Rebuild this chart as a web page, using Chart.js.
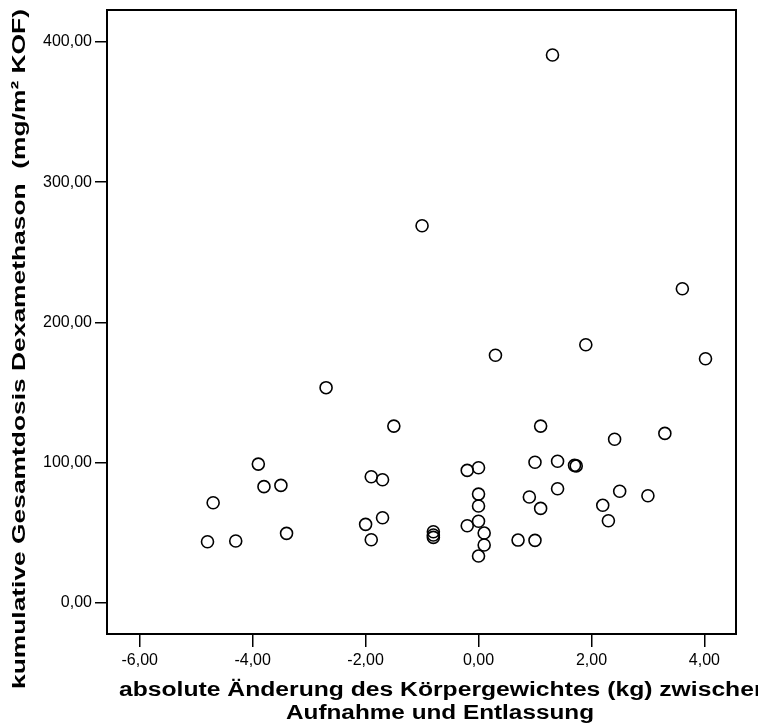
<!DOCTYPE html>
<html>
<head>
<meta charset="utf-8">
<script src="https://cdn.jsdelivr.net/npm/chart.js@4"></script>
<style>
  html, body { margin: 0; padding: 0; background: #fff; }
  canvas { display: block; }
</style>
</head>
<body>
<canvas id="scatter" width="758" height="726"></canvas>
<script>
// Gewichtsänderung (kg) zwischen Aufnahme und Entlassung
const weightChange = [
    -2.70, -1.50, -3.90, -3.80, -3.50, -4.70, -4.80, -4.30, -3.40,
    -1.90, -1.70, -1.70, -2.00, -1.90, -0.80, -0.80, -0.80,
    1.10, 2.41, 3.30, -0.20, 0.00, 1.00, 1.40, 1.70, 1.73,
    0.00, 0.00, 0.00, -0.20, 0.10, 0.10, 0.00, 0.70, 1.00,
    0.90, 1.10, 1.40, 2.20, 2.30, 2.50, 3.00,
    -1.00, 3.61, 1.31, 0.30, 1.90, 4.02
];
// kumulative Dexamethason-Dosis (mg/m² KOF)
const dexaDose = [
    153.4, 126.0, 98.9, 82.8, 83.7, 71.3, 43.5, 44.0, 49.5,
    89.9, 87.7, 60.6, 55.9, 44.9, 50.6, 48.3, 46.6,
    126.0, 116.6, 120.8, 94.4, 96.3, 100.2, 100.9, 98.0, 97.6,
    77.5, 69.0, 58.1, 54.9, 49.7, 41.2, 33.3, 44.7, 44.5,
    75.4, 67.3, 81.3, 69.5, 58.5, 79.5, 76.3,
    268.9, 224.0, 390.7, 176.5, 184.0, 174.0
];

const xTicks = [-6, -4, -2, 0, 2, 4];
const yTicks = [0, 100, 200, 300, 400];
const xTitle = ['absolute Änderung des Körpergewichtes (kg) zwischen', 'Aufnahme und Entlassung'];
const yTitle = 'kumulative Gesamtdosis Dexamethason  (mg/m² KOF)';

const points = weightChange.map((x, i) => ({ x: x, y: dexaDose[i] }));
const FONT = '"Liberation Sans", Arial, sans-serif';
const comma = v => Number(v).toFixed(2).replace('.', ',');

// text drawn a little wider than the font, fitted to a given length
function drawFitted(ctx, text, width) {
    const w = ctx.measureText(text).width;
    ctx.scale(width / w, 1);
    ctx.fillText(text, 0, 0);
}

const frameAndTitles = {
    id: 'frameAndTitles',
    afterDraw(chart) {
        const ctx = chart.ctx;
        const a = chart.chartArea;
        ctx.save();
        ctx.strokeStyle = '#000';
        ctx.lineWidth = 2;
        ctx.strokeRect(a.left, a.top, a.right - a.left, a.bottom - a.top);

        ctx.fillStyle = '#000';
        ctx.textAlign = 'center';
        ctx.textBaseline = 'alphabetic';
        ctx.font = 'bold 20px ' + FONT;

        ctx.save();
        ctx.translate(444, 696);
        drawFitted(ctx, xTitle[0], 650);
        ctx.restore();

        ctx.save();
        ctx.translate(440, 719);
        drawFitted(ctx, xTitle[1], 308);
        ctx.restore();

        ctx.font = 'bold 19px ' + FONT;
        ctx.save();
        ctx.translate(25, 349);
        ctx.rotate(-Math.PI / 2);
        drawFitted(ctx, yTitle, 680);
        ctx.restore();

        ctx.restore();
    }
};

new Chart(document.getElementById('scatter').getContext('2d'), {
    type: 'scatter',
    data: {
        datasets: [{
            data: points,
            pointStyle: 'circle',
            pointRadius: 6,
            pointHoverRadius: 6,
            pointBorderWidth: 1.6,
            pointBorderColor: '#000',
            pointBackgroundColor: 'rgba(0,0,0,0)'
        }]
    },
    options: {
        responsive: false,
        animation: false,
        layout: { padding: { left: 0, top: 10, right: 22, bottom: 0 } },
        plugins: { legend: { display: false }, tooltip: { enabled: false } },
        scales: {
            x: {
                type: 'linear',
                min: -6.58,
                max: 4.56,
                afterBuildTicks: s => { s.ticks = xTicks.map(v => ({ value: v })); },
                afterFit: s => { s.height = 92; s.paddingLeft = 0; s.paddingRight = 0; },
                border: { display: false },
                grid: { drawOnChartArea: false, drawTicks: true, tickLength: 13, color: '#000', lineWidth: 1.5 },
                ticks: {
                    includeBounds: false,
                    autoSkip: false,
                    maxRotation: 0,
                    padding: 4,
                    color: '#000',
                    font: { family: FONT, size: 16 },
                    callback: comma
                }
            },
            y: {
                type: 'linear',
                min: -22.3,
                max: 422.8,
                afterBuildTicks: s => { s.ticks = yTicks.map(v => ({ value: v })); },
                afterFit: s => { s.width = 107; s.paddingTop = 0; s.paddingBottom = 0; },
                border: { display: false },
                grid: { drawOnChartArea: false, drawTicks: true, tickLength: 12, color: '#000', lineWidth: 1.5 },
                ticks: {
                    includeBounds: false,
                    autoSkip: false,
                    padding: 3,
                    color: '#000',
                    font: { family: FONT, size: 16 },
                    callback: comma
                }
            }
        }
    },
    plugins: [frameAndTitles]
});
</script>
</body>
</html>
